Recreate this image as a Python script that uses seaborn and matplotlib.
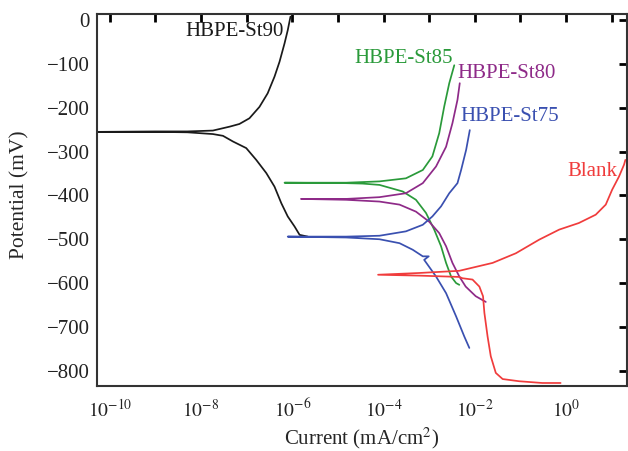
import numpy as np
import pandas as pd
import matplotlib
matplotlib.use("Agg")
import matplotlib.pyplot as plt
import seaborn as sns

# log10(current, mA/cm^2) and potential (mV)
st90_logi = [-6.04, -6.10, -6.17, -6.28, -6.39, -6.54, -6.72, -6.94, -7.16, -7.37, -7.74, -8.3, -9.0, -10.28,
             -9.0, -8.3, -7.74, -7.52, -7.30, -7.01, -6.79, -6.57, -6.39, -6.24, -6.10, -5.95, -5.84, -5.66]
st90_E = [8, -23, -53, -95, -129, -167, -198, -224, -237, -243, -252, -254, -254, -255,
          -255, -256, -260, -264, -277, -292, -319, -349, -380, -418, -448, -471, -490, -494]

st85_logi = [-2.45, -2.56, -2.67, -2.78, -2.93, -3.14, -3.51, -4.09, -4.82, -6.17,
             -4.82, -4.46, -4.09, -3.58, -3.29, -3.07, -2.89, -2.74, -2.63, -2.52, -2.41, -2.34]
st85_E = [-103, -144, -197, -258, -311, -342, -361, -368, -371, -371,
          -372, -373, -376, -391, -410, -440, -478, -516, -554, -585, -600, -604]

st80_logi = [-2.33, -2.38, -2.49, -2.63, -2.85, -3.14, -3.51, -4.09, -4.82, -5.81,
             -4.82, -4.09, -3.65, -3.29, -3.00, -2.78, -2.63, -2.49, -2.34, -2.20, -1.98, -1.76]
st80_E = [-144, -182, -235, -289, -334, -372, -395, -404, -408, -408,
          -410, -414, -421, -437, -460, -486, -516, -554, -585, -608, -630, -643]

st75_logi = [-2.11, -2.19, -2.30, -2.38, -2.56, -2.74, -2.93, -3.14, -3.51, -4.09, -4.82, -6.10,
             -4.82, -4.09, -3.65, -3.36, -3.14, -3.01, -3.11, -2.85, -2.63, -2.41, -2.23, -2.12]
st75_E = [-251, -296, -342, -372, -395, -425, -448, -467, -482, -492, -494, -494,
          -496, -500, -509, -524, -539, -539, -547, -585, -623, -676, -722, -748]

blank_logi = [1.30, 1.27, 1.16, 1.01, 0.87, 0.65, 0.28, -0.15, -0.59, -1.10, -1.61, -2.34, -3.22, -4.12,
              -3.22, -2.34, -2.27, -2.05, -1.90, -1.82, -1.79, -1.72, -1.65, -1.54, -1.39, -1.03, -0.52, -0.12]
blank_E = [-319, -330, -357, -387, -421, -444, -463, -478, -501, -532, -554, -572, -577, -581,
           -583, -586, -589, -592, -608, -630, -668, -722, -767, -805, -819, -824, -828, -828]

names = ["HBPE-St90", "HBPE-St85", "HBPE-St80", "HBPE-St75", "Blank"]
colors = ["#1a1a1a", "#2a9a3a", "#8e2a88", "#3a50b0", "#f03c3c"]
series = [(st90_logi, st90_E), (st85_logi, st85_E), (st80_logi, st80_E),
          (st75_logi, st75_E), (blank_logi, blank_E)]
label_pos = [(-7.26, -27), (-3.57, -87), (-1.31, -121), (-1.23, -221), (0.57, -346)]

sns.set_style("white")
plt.rcParams['font.family'] = ['Liberation Serif', 'DejaVu Serif']
plt.rcParams['mathtext.fontset'] = 'stix'
plt.rcParams['axes.unicode_minus'] = True

fig = plt.figure(figsize=(6.28, 4.51), dpi=100)
ax = fig.add_axes([0.1545, 0.144, 0.8435, 0.825])

for name, col, (lx, ey) in zip(names, colors, series):
    df = pd.DataFrame({"current": 10.0 ** np.array(lx), "E": ey})
    sns.lineplot(data=df, x="current", y="E", sort=False, estimator=None,
                 color=col, linewidth=1.25, ax=ax)

for name, col, (px, py) in zip(names, colors, label_pos):
    ax.text(10 ** px, py, name, color=col, fontsize=15, ha="center", va="center")

ax.set_xscale("log")
ax.set_xlim(10 ** -10.28, 10 ** 1.33)
ax.set_ylim(-835, 14)

exps = list(range(-10, 2))
ax.set_xticks([10.0 ** e for e in exps])
ax.set_xticklabels([r"$10^{%d}$" % e if e % 2 == 0 else "" for e in exps])
ax.xaxis.set_minor_locator(matplotlib.ticker.NullLocator())
ax.set_yticks(np.arange(-800, 1, 100))

ax.tick_params(axis="both", which="major", direction="in", length=6, width=2,
               top=True, right=True, colors="black", labelcolor="#222222")
ax.tick_params(axis="x", pad=9, labelsize=14)
ax.tick_params(axis="y", pad=5, labelsize=15)
for sp in ax.spines.values():
    sp.set_linewidth(1.5)
    sp.set_color("#333333")

ax.set_xlabel(r"Current (mA/cm$^2$)", fontsize=15, labelpad=3)
ax.set_ylabel("Potential (mV)", fontsize=15.5)
ax.yaxis.set_label_coords(-0.128, 0.513)

fig.savefig("out.png", dpi=100)
